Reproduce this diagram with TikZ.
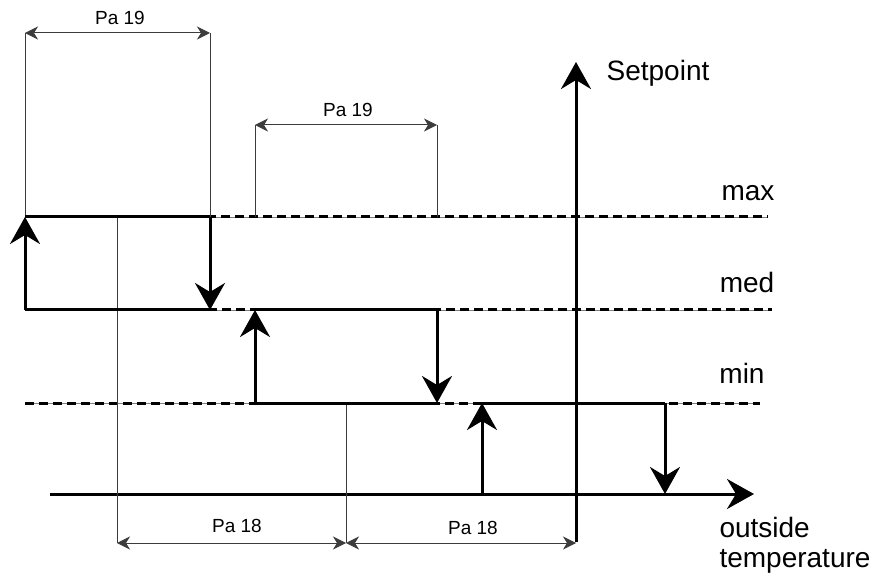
\documentclass[tikz,border=0pt]{standalone}
\usepackage{fontspec}
\setmainfont{Liberation Sans}
\usetikzlibrary{arrows.meta,calc,positioning}
\definecolor{DimGray}{RGB}{60,60,60}

\begin{document}
\begin{tikzpicture}[x=1pt,y=-1pt,>={Stealth[length=27pt,width=30pt,inset=9pt]},
  hyst/.style={line width=3pt},
  dimline/.style={DimGray,line width=1pt},
  dimarrow/.style={dimline,{Stealth[length=13pt,width=13pt,inset=4pt]}-{Stealth[length=13pt,width=13pt,inset=4pt]}},
  bigtext/.style={font=\fontsize{28}{30}\selectfont},
  smalltext/.style={font=\fontsize{19}{22}\selectfont}]
  \useasboundingbox (0,0) rectangle (879,580);
  % levels
  \foreach \ya/\xa/\xb in {217/25/768,310/180/772,403/25/760}{
    \draw[gray,line width=0.9pt] (\xa,\ya)--(\xb,\ya);
    \draw[line width=3pt,dash pattern=on 9pt off 5pt] (\xa,\ya)--(\xb,\ya);
  }
  \node[bigtext] (max) at (748,193) {max};
  \node[bigtext] (med) at (747,282) {med};
  \node[bigtext] (min) at (742,373) {min};
  % axes
  \coordinate (O1) at (50,494);
  \coordinate (O2) at (754,494);
  \coordinate (S1) at (576,542);
  \coordinate (S2) at (576,62);
  \draw[hyst,->] (O1)--(O2);
  \draw[hyst,->] (S1)--(S2);
  \node[bigtext] (setp) at (658,73) {Setpoint};
  \node[bigtext,anchor=west,align=left] (temp) at (716,545) {outside\\temperature};
  % loop corners
  \coordinate (A1) at (25,310);  \coordinate (B1) at (25,217);
  \coordinate (C1) at (210,217); \coordinate (D1) at (210,310);
  \coordinate (A2) at (255,403); \coordinate (B2) at (255,310);
  \coordinate (C2) at (437,310); \coordinate (D2) at (437,403);
  \coordinate (A3) at (482,494); \coordinate (B3) at (482,403);
  \coordinate (C3) at (665,403); \coordinate (D3) at (665,494);
  % dimension lines
  \coordinate (T1) at (25,33);   \coordinate (T2) at (210,33);
  \coordinate (M1) at (255,125); \coordinate (M2) at (437,125);
  \coordinate (L1) at (117,217); \coordinate (L2) at (117,543);
  \coordinate (L3) at (346,403); \coordinate (L4) at (346,543);
  \coordinate (L5) at (576,543);
  \draw[dimline] (T1)--(B1) (T2)--(C1);
  \draw[dimline] (M1)--(255,217) (M2)--(437,217);
  \draw[dimline] (L1)--(L2) (L3)--(L4);
  \draw[dimarrow] (T1)--(T2);
  \draw[dimarrow] (M1)--(M2);
  \draw[dimarrow] (L2)--(L4);
  \draw[dimarrow] (L4)--(L5);
  \node[smalltext] (pa19a) at (120,18) {Pa 19};
  \node[smalltext] (pa19b) at (348,110) {Pa 19};
  \node[smalltext] (pa18a) at (237,526) {Pa 18};
  \node[smalltext] (pa18b) at (473,528) {Pa 18};
  % hysteresis steps
  \draw[hyst,->] (A1)--(B1);
  \draw[hyst] (B1)--(C1) (D1)--(A1);
  \draw[hyst,->] (C1)--(D1);
  \draw[hyst,->] (A2)--(B2);
  \draw[hyst] (B2)--(C2) (D2)--(A2);
  \draw[hyst,->] (C2)--(D2);
  \draw[hyst,->] (A3)--(B3);
  \draw[hyst] (B3)--(C3) (D3)--(A3);
  \draw[hyst,->] (C3)--(D3);
\end{tikzpicture}
\end{document}
